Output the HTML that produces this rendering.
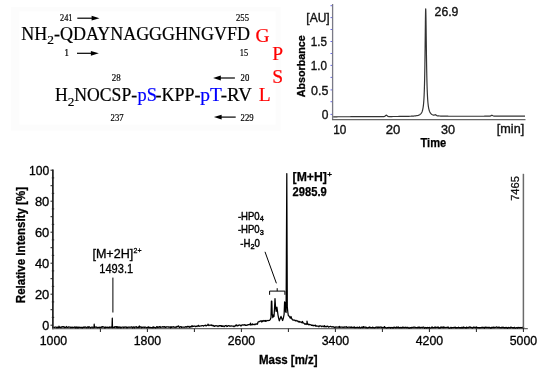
<!DOCTYPE html>
<html><head><meta charset="utf-8">
<style>
html,body{margin:0;padding:0;background:#fff;width:550px;height:371px;overflow:hidden}
svg{display:block;will-change:transform}
.serif{font-family:"Liberation Serif",serif}
.sans{font-family:"Liberation Sans",sans-serif}
</style></head><body>
<svg width="550" height="371" viewBox="0 0 550 371">
<rect width="550" height="371" fill="#fff"/>
<rect x="11" y="7" width="269.5" height="123.5" fill="#fcfcfc"/>
<rect x="19.5" y="11.5" width="256" height="113" fill="#fff"/>
<!-- ===== Peptide block ===== -->
<g class="serif" fill="#000" stroke="#000" stroke-width="0.2">
  <text x="21.3" y="40.1" font-size="17.8" textLength="228.6" lengthAdjust="spacingAndGlyphs">NH<tspan font-size="13.3" dy="4.3">2</tspan><tspan dy="-4.3">-QDAYNAGGGHNGVFD</tspan></text>
  <text x="255.6" y="41.7" font-size="19.5" fill="#f00" stroke="#f00">G</text>
  <text x="60" y="20.8" font-size="9.6" textLength="12.4" lengthAdjust="spacingAndGlyphs">241</text>
  <text x="236" y="21.2" font-size="9.6" textLength="13" lengthAdjust="spacingAndGlyphs">255</text>
  <text x="64.3" y="56" font-size="9.6">1</text>
  <text x="239.8" y="56" font-size="9.6" textLength="8.4" lengthAdjust="spacingAndGlyphs">15</text>
  <text x="272.2" y="60.1" font-size="19.5" fill="#f00" stroke="#f00">P</text>
  <text x="111.8" y="81" font-size="9.6" textLength="8.9" lengthAdjust="spacingAndGlyphs">28</text>
  <text x="240.6" y="81" font-size="9.6" textLength="8.7" lengthAdjust="spacingAndGlyphs">20</text>
  <text x="272.2" y="82.6" font-size="19.5" fill="#f00" stroke="#f00">S</text>
  <text x="54.9" y="101.3" font-size="17.8" textLength="82.3" lengthAdjust="spacingAndGlyphs">H<tspan font-size="13.3" dy="4.3">2</tspan><tspan dy="-4.3">NOCSP-</tspan></text>
  <text x="137.6" y="101.3" font-size="17.8" fill="#00f" stroke="#00f" textLength="19.4" lengthAdjust="spacingAndGlyphs">pS</text>
  <text x="155.6" y="101.3" font-size="17.8" textLength="45" lengthAdjust="spacingAndGlyphs">-KPP-</text>
  <text x="200.2" y="101.3" font-size="17.8" fill="#00f" stroke="#00f" textLength="21.6" lengthAdjust="spacingAndGlyphs">pT</text>
  <text x="220.8" y="101.3" font-size="17.8" textLength="31" lengthAdjust="spacingAndGlyphs">-RV</text>
  <text x="258.8" y="101" font-size="19.5" fill="#f00" stroke="#f00">L</text>
  <text x="110.6" y="120.6" font-size="9.6" textLength="13" lengthAdjust="spacingAndGlyphs">237</text>
  <text x="240.6" y="120.6" font-size="9.6" textLength="13" lengthAdjust="spacingAndGlyphs">229</text>
</g>
<g stroke="#000" stroke-width="1.2" fill="#000">
  <line x1="77.3" y1="18.2" x2="93" y2="18.2"/><path d="M99.5,18.2 L91.6,15.8 L91.6,20.6 Z" stroke="none"/>
  <line x1="77" y1="53.3" x2="92.5" y2="53.3"/><path d="M98.8,53.3 L90.9,50.9 L90.9,55.7 Z" stroke="none"/>
  <line x1="219" y1="78" x2="234.9" y2="78"/><path d="M213.1,78 L220.8,75.6 L220.8,80.4 Z" stroke="none"/>
  <line x1="219.5" y1="117.1" x2="235.7" y2="117.1"/><path d="M213.9,117.1 L221.6,114.7 L221.6,119.5 Z" stroke="none"/>
</g>

<!-- ===== Chromatogram ===== -->
<g class="sans">
  <line x1="332.6" y1="4" x2="332.6" y2="120" stroke="#7a7a86" stroke-width="1.3"/>
  <line x1="332" y1="119.7" x2="525.5" y2="119.7" stroke="#666" stroke-width="1.3"/>
  <g stroke="#6a6ae6" stroke-width="1">
    <line x1="330.5" y1="5.7" x2="332" y2="5.7"/><line x1="330.5" y1="17.6" x2="332" y2="17.6"/>
    <line x1="330.5" y1="29.5" x2="332" y2="29.5"/><line x1="330.5" y1="41.5" x2="332" y2="41.5"/>
    <line x1="330.5" y1="53.5" x2="332" y2="53.5"/><line x1="330.5" y1="65.4" x2="332" y2="65.4"/>
    <line x1="330.5" y1="77.4" x2="332" y2="77.4"/><line x1="330.5" y1="89.9" x2="332" y2="89.9"/>
    <line x1="330.5" y1="101.7" x2="332" y2="101.7"/><line x1="330.5" y1="114.4" x2="332" y2="114.4"/>
  </g>
  <path d="M333.20,116.79 L333.70,116.79 L334.20,116.79 L334.70,116.79 L335.20,116.78 L335.70,116.78 L336.20,116.78 L336.70,116.78 L337.20,116.78 L337.70,116.77 L338.20,116.77 L338.70,116.77 L339.20,116.77 L339.70,116.77 L340.20,116.76 L340.70,116.76 L341.20,116.76 L341.70,116.76 L342.20,116.76 L342.70,116.76 L343.20,116.75 L343.70,116.75 L344.20,116.75 L344.70,116.75 L345.20,116.75 L345.70,116.74 L346.20,116.74 L346.70,116.74 L347.20,116.74 L347.70,116.74 L348.20,116.73 L348.70,116.73 L349.20,116.73 L349.70,116.73 L350.20,116.73 L350.70,116.72 L351.20,116.72 L351.70,116.72 L352.20,116.72 L352.70,116.72 L353.20,116.71 L353.70,116.71 L354.20,116.71 L354.70,116.71 L355.20,116.71 L355.70,116.70 L356.20,116.70 L356.70,116.70 L357.20,116.70 L357.70,116.70 L358.20,116.69 L358.70,116.69 L359.20,116.69 L359.70,116.69 L360.20,116.69 L360.70,116.68 L361.20,116.68 L361.70,116.68 L362.20,116.68 L362.70,116.68 L363.20,116.67 L363.70,116.67 L364.20,116.67 L364.70,116.67 L365.20,116.66 L365.70,116.66 L366.20,116.66 L366.70,116.66 L367.20,116.66 L367.70,116.65 L368.20,116.65 L368.70,116.65 L369.20,116.65 L369.70,116.65 L370.20,116.64 L370.70,116.64 L371.20,116.64 L371.70,116.64 L372.20,116.63 L372.70,116.63 L373.20,116.63 L373.70,116.63 L374.20,116.63 L374.70,116.62 L375.20,116.62 L375.70,116.62 L376.20,116.62 L376.70,116.61 L377.20,116.61 L377.70,116.61 L378.20,116.61 L378.70,116.60 L379.20,116.60 L379.70,116.60 L380.20,116.60 L380.70,116.59 L381.20,116.59 L381.70,116.59 L382.20,116.59 L382.70,116.58 L383.20,116.58 L383.70,116.57 L384.20,116.53 L384.70,116.38 L385.20,116.03 L385.70,115.51 L386.20,115.17 L386.70,115.33 L387.20,115.81 L387.70,116.25 L388.20,116.47 L388.70,116.53 L389.20,116.54 L389.70,116.54 L390.20,116.54 L390.70,116.54 L391.20,116.53 L391.70,116.53 L392.20,116.53 L392.70,116.52 L393.20,116.52 L393.70,116.51 L394.20,116.51 L394.70,116.51 L395.20,116.50 L395.70,116.50 L396.20,116.49 L396.70,116.49 L397.20,116.49 L397.70,116.48 L398.20,116.48 L398.70,116.47 L399.20,116.47 L399.70,116.46 L400.20,116.45 L400.70,116.45 L401.20,116.44 L401.70,116.44 L402.20,116.43 L402.70,116.42 L403.20,116.41 L403.70,116.41 L404.20,116.40 L404.70,116.39 L405.20,116.38 L405.70,116.37 L406.20,116.36 L406.70,116.35 L407.20,116.34 L407.70,116.33 L408.20,116.31 L408.70,116.30 L409.20,116.28 L409.70,116.27 L410.20,116.25 L410.70,116.23 L411.20,116.20 L411.70,116.18 L412.20,116.15 L412.70,116.12 L413.20,116.09 L413.70,116.05 L414.20,116.01 L414.70,115.96 L415.20,115.91 L415.70,115.85 L416.20,115.78 L416.70,115.69 L417.20,115.59 L417.70,115.48 L418.20,115.34 L418.70,115.17 L419.20,114.96 L419.70,114.70 L420.20,114.36 L420.70,113.92 L421.20,113.34 L421.25,113.27 L421.30,113.20 L421.35,113.13 L421.40,113.05 L421.45,112.97 L421.50,112.89 L421.55,112.81 L421.60,112.72 L421.65,112.63 L421.70,112.54 L421.75,112.44 L421.80,112.34 L421.85,112.23 L421.90,112.13 L421.95,112.01 L422.00,111.90 L422.05,111.78 L422.10,111.65 L422.15,111.52 L422.20,111.38 L422.25,111.24 L422.30,111.10 L422.35,110.94 L422.40,110.78 L422.45,110.62 L422.50,110.44 L422.55,110.26 L422.60,110.07 L422.65,109.87 L422.70,109.66 L422.75,109.44 L422.80,109.22 L422.85,108.98 L422.90,108.73 L422.95,108.46 L423.00,108.19 L423.05,107.90 L423.10,107.59 L423.15,107.27 L423.20,106.93 L423.25,106.57 L423.30,106.19 L423.35,105.80 L423.40,105.37 L423.45,104.93 L423.50,104.46 L423.55,103.96 L423.60,103.43 L423.65,102.87 L423.70,102.27 L423.75,101.63 L423.80,100.95 L423.85,100.23 L423.90,99.46 L423.95,98.64 L424.00,97.76 L424.05,96.82 L424.10,95.81 L424.15,94.73 L424.20,93.57 L424.25,92.33 L424.30,90.99 L424.35,89.55 L424.40,87.99 L424.45,86.32 L424.50,84.52 L424.55,82.57 L424.60,80.48 L424.65,78.22 L424.70,75.78 L424.75,73.15 L424.80,70.33 L424.85,67.29 L424.90,64.04 L424.95,60.57 L425.00,56.88 L425.05,52.98 L425.10,48.89 L425.15,44.62 L425.20,40.23 L425.25,35.76 L425.30,31.30 L425.35,26.93 L425.40,22.76 L425.45,18.92 L425.50,15.54 L425.55,12.74 L425.60,10.64 L425.65,9.34 L425.70,8.90 L425.75,9.26 L425.80,10.33 L425.85,12.08 L425.90,14.42 L425.95,17.28 L426.00,20.57 L426.05,24.18 L426.10,28.03 L426.15,32.02 L426.20,36.07 L426.25,40.12 L426.30,44.11 L426.35,48.01 L426.40,51.76 L426.45,55.37 L426.50,58.80 L426.55,62.05 L426.60,65.12 L426.65,68.01 L426.70,70.73 L426.75,73.27 L426.80,75.65 L426.85,77.88 L426.90,79.96 L426.95,81.90 L427.00,83.72 L427.05,85.41 L427.10,86.99 L427.15,88.47 L427.20,89.85 L427.25,91.14 L427.30,92.35 L427.35,93.48 L427.40,94.54 L427.45,95.53 L427.50,96.47 L427.55,97.34 L427.60,98.17 L427.65,98.94 L427.70,99.67 L427.75,100.36 L427.80,101.01 L427.85,101.62 L427.90,102.20 L427.95,102.74 L428.00,103.26 L428.05,103.75 L428.10,104.21 L428.15,104.65 L428.20,105.07 L428.25,105.47 L428.30,105.85 L428.35,106.20 L428.40,106.55 L428.45,106.87 L428.50,107.18 L428.55,107.48 L428.60,107.76 L428.65,108.03 L428.70,108.28 L428.75,108.53 L428.80,108.76 L428.85,108.99 L428.90,109.21 L428.95,109.41 L429.00,109.61 L429.05,109.80 L429.10,109.98 L429.15,110.16 L429.20,110.33 L429.25,110.49 L429.30,110.64 L429.35,110.79 L429.40,110.94 L429.45,111.07 L429.50,111.21 L429.55,111.34 L429.60,111.46 L429.65,111.58 L429.70,111.70 L429.75,111.81 L429.80,111.91 L429.85,112.02 L429.90,112.12 L429.95,112.22 L430.00,112.31 L430.05,112.40 L430.10,112.49 L430.15,112.57 L430.20,112.66 L430.25,112.74 L430.30,112.81 L430.35,112.89 L430.40,112.96 L430.45,113.03 L430.50,113.10 L430.55,113.17 L430.60,113.23 L430.65,113.29 L430.70,113.35 L430.75,113.41 L430.80,113.47 L430.85,113.53 L430.90,113.58 L430.95,113.63 L431.00,113.68 L431.50,114.13 L432.00,114.47 L432.50,114.74 L433.00,114.96 L433.50,115.12 L434.00,115.17 L434.50,115.02 L435.00,114.75 L435.50,114.71 L436.00,115.06 L436.50,115.48 L437.00,115.74 L437.50,115.84 L438.00,115.89 L438.50,115.93 L439.00,115.97 L439.50,116.00 L440.00,116.02 L440.50,116.05 L441.00,116.07 L441.50,116.09 L442.00,116.10 L442.50,116.12 L443.00,116.13 L443.50,116.15 L444.00,116.16 L444.50,116.17 L445.00,116.18 L445.50,116.19 L446.00,116.20 L446.50,116.20 L447.00,116.21 L447.50,116.22 L448.00,116.22 L448.50,116.23 L449.00,116.23 L449.50,116.24 L450.00,116.24 L450.50,116.24 L451.00,116.25 L451.50,116.25 L452.00,116.25 L452.50,116.25 L453.00,116.26 L453.50,116.26 L454.00,116.26 L454.50,116.26 L455.00,116.26 L455.50,116.26 L456.00,116.27 L456.50,116.27 L457.00,116.27 L457.50,116.27 L458.00,116.27 L458.50,116.27 L459.00,116.27 L459.50,116.27 L460.00,116.27 L460.50,116.27 L461.00,116.27 L461.50,116.27 L462.00,116.27 L462.50,116.27 L463.00,116.27 L463.50,116.27 L464.00,116.27 L464.50,116.27 L465.00,116.27 L465.50,116.27 L466.00,116.27 L466.50,116.27 L467.00,116.26 L467.50,116.26 L468.00,116.26 L468.50,116.26 L469.00,116.26 L469.50,116.26 L470.00,116.26 L470.50,116.26 L471.00,116.26 L471.50,116.26 L472.00,116.26 L472.50,116.26 L473.00,116.25 L473.50,116.25 L474.00,116.25 L474.50,116.25 L475.00,116.25 L475.50,116.25 L476.00,116.25 L476.50,116.25 L477.00,116.24 L477.50,116.24 L478.00,116.24 L478.50,116.24 L479.00,116.24 L479.50,116.24 L480.00,116.24 L480.50,116.24 L481.00,116.23 L481.50,116.23 L482.00,116.23 L482.50,116.23 L483.00,116.23 L483.50,116.23 L484.00,116.23 L484.50,116.22 L485.00,116.22 L485.50,116.22 L486.00,116.22 L486.50,116.22 L487.00,116.22 L487.50,116.22 L488.00,116.21 L488.50,116.21 L489.00,116.21 L489.50,116.18 L490.00,116.11 L490.50,115.94 L491.00,115.66 L491.50,115.39 L492.00,115.31 L492.50,115.48 L493.00,115.77 L493.50,116.01 L494.00,116.14 L494.50,116.18 L495.00,116.19 L495.50,116.19 L496.00,116.19 L496.50,116.19 L497.00,116.19 L497.50,116.18 L498.00,116.18 L498.50,116.18 L499.00,116.18 L499.50,116.18 L500.00,116.18 L500.50,116.18 L501.00,116.17 L501.50,116.17 L502.00,116.17 L502.50,116.17 L503.00,116.17 L503.50,116.17 L504.00,116.16 L504.50,116.16 L505.00,116.16 L505.50,116.16 L506.00,116.16 L506.50,116.16 L507.00,116.15 L507.50,116.15 L508.00,116.15 L508.50,116.15 L509.00,116.15 L509.50,116.15 L510.00,116.14 L510.50,116.14 L511.00,116.14 L511.50,116.14 L512.00,116.14 L512.50,116.14 L513.00,116.13 L513.50,116.13 L514.00,116.13 L514.50,116.13 L515.00,116.13 L515.50,116.12 L516.00,116.12 L516.50,116.12 L517.00,116.12 L517.50,116.12 L518.00,116.12 L518.50,116.11 L519.00,116.11 L519.50,116.11 L520.00,116.11 L520.50,116.11 L521.00,116.11 L521.50,116.10 L522.00,116.10 L522.50,116.10 L523.00,116.10 L523.50,116.10 L524.00,116.10 L524.50,116.09 L525.00,116.09" fill="none" stroke="#333" stroke-width="1.2" stroke-linejoin="round"/>
  <g font-size="12" fill="#111" stroke="#111" stroke-width="0.35">
    <text x="306.3" y="22.2" textLength="23.4" lengthAdjust="spacingAndGlyphs">[AU]</text>
    <text x="310.7" y="45.8" textLength="16.2" lengthAdjust="spacingAndGlyphs">1.5</text>
    <text x="310.7" y="70" textLength="16.2" lengthAdjust="spacingAndGlyphs">1.0</text>
    <text x="311" y="95" textLength="17.3" lengthAdjust="spacingAndGlyphs">0.5</text>
    <text x="321.8" y="119">0</text>
    <text x="333.3" y="133.6" textLength="13.1" lengthAdjust="spacingAndGlyphs">10</text>
    <text x="385.7" y="133.6" textLength="14.6" lengthAdjust="spacingAndGlyphs">20</text>
    <text x="441" y="134.1" textLength="14.1" lengthAdjust="spacingAndGlyphs">30</text>
    <text x="434.6" y="16.2" textLength="23.8" lengthAdjust="spacingAndGlyphs">26.9</text>
    <text x="496.8" y="133" textLength="27.4" lengthAdjust="spacingAndGlyphs">[min]</text>
  </g>
  <text x="420.5" y="146.6" font-size="12" font-weight="bold" stroke="#000" stroke-width="0.25" textLength="25.7" lengthAdjust="spacingAndGlyphs">Time</text>
  <text transform="translate(305,97.2) rotate(-90)" font-size="11.6" font-weight="bold" stroke="#000" stroke-width="0.3" textLength="62" lengthAdjust="spacingAndGlyphs">Absorbance</text>
</g>

<!-- ===== Mass spectrum ===== -->
<g class="sans">
  <line x1="52.9" y1="169.6" x2="52.9" y2="329.2" stroke="#000" stroke-width="1.5"/>
  <line x1="52.2" y1="328.6" x2="527.8" y2="328.6" stroke="#666" stroke-width="1.4"/>
  <g stroke="#222" stroke-width="1">
    <line x1="50.5" y1="325.2" x2="53" y2="325.2"/>
    <line x1="51.8" y1="317.4" x2="54.2" y2="317.4"/>
    <line x1="50.5" y1="309.7" x2="53" y2="309.7"/>
    <line x1="51.8" y1="301.9" x2="54.2" y2="301.9"/>
    <line x1="50.5" y1="294.2" x2="53" y2="294.2"/>
    <line x1="51.8" y1="286.4" x2="54.2" y2="286.4"/>
    <line x1="50.5" y1="278.7" x2="53" y2="278.7"/>
    <line x1="51.8" y1="270.9" x2="54.2" y2="270.9"/>
    <line x1="50.5" y1="263.2" x2="53" y2="263.2"/>
    <line x1="51.8" y1="255.4" x2="54.2" y2="255.4"/>
    <line x1="50.5" y1="247.7" x2="53" y2="247.7"/>
    <line x1="51.8" y1="239.9" x2="54.2" y2="239.9"/>
    <line x1="50.5" y1="232.2" x2="53" y2="232.2"/>
    <line x1="51.8" y1="224.4" x2="54.2" y2="224.4"/>
    <line x1="50.5" y1="216.7" x2="53" y2="216.7"/>
    <line x1="51.8" y1="208.9" x2="54.2" y2="208.9"/>
    <line x1="50.5" y1="201.2" x2="53" y2="201.2"/>
    <line x1="51.8" y1="193.4" x2="54.2" y2="193.4"/>
    <line x1="50.5" y1="185.7" x2="53" y2="185.7"/>
    <line x1="51.8" y1="177.9" x2="54.2" y2="177.9"/>
    <line x1="50.5" y1="170.2" x2="53" y2="170.2"/>
    <line x1="100.4" y1="328.6" x2="100.4" y2="332"/>
    <line x1="147.4" y1="328.6" x2="147.4" y2="332"/>
    <line x1="194.4" y1="328.6" x2="194.4" y2="332"/>
    <line x1="241.4" y1="328.6" x2="241.4" y2="332"/>
    <line x1="288.4" y1="328.6" x2="288.4" y2="332"/>
    <line x1="335.4" y1="328.6" x2="335.4" y2="332"/>
    <line x1="382.4" y1="328.6" x2="382.4" y2="332"/>
    <line x1="429.4" y1="328.6" x2="429.4" y2="332"/>
    <line x1="476.4" y1="328.6" x2="476.4" y2="332"/>
    <line x1="523.4" y1="328.6" x2="523.4" y2="332"/>
  </g>
  <path d="M53.5,327.4 L54.0,327.5 L54.5,327.3 L55.0,327.1 L55.5,327.2 L56.0,327.0 L56.5,327.4 L57.0,327.9 L57.5,327.2 L58.0,327.2 L58.5,327.6 L59.0,327.5 L59.0,326.1 L59.5,327.4 L60.0,327.1 L60.5,327.4 L61.0,327.6 L61.5,326.9 L62.0,327.2 L62.5,326.7 L63.0,326.9 L63.5,326.7 L64.0,327.3 L64.5,326.9 L65.0,327.5 L65.5,327.4 L66.0,327.3 L66.5,326.5 L67.0,327.2 L67.5,327.4 L68.0,327.4 L68.5,326.8 L69.0,327.2 L69.5,327.0 L70.0,327.1 L70.5,327.7 L71.0,327.1 L71.5,327.3 L72.0,327.7 L72.5,327.2 L73.0,327.3 L73.5,327.4 L74.0,327.4 L74.5,326.9 L75.0,327.4 L75.5,327.8 L76.0,326.8 L76.5,327.7 L77.0,327.4 L77.5,327.1 L78.0,328.0 L78.5,327.6 L79.0,326.9 L79.5,327.4 L80.0,327.5 L80.5,327.3 L81.0,327.6 L81.5,327.3 L82.0,327.6 L82.5,327.8 L83.0,327.1 L83.5,327.4 L84.0,327.2 L84.5,327.4 L85.0,326.9 L85.5,327.1 L86.0,327.3 L86.5,327.6 L87.0,327.7 L87.5,326.9 L88.0,327.0 L88.5,327.6 L89.0,326.6 L89.5,327.2 L90.0,327.3 L90.5,327.8 L91.0,327.6 L91.5,327.2 L92.0,327.2 L92.5,327.2 L93.0,327.8 L93.5,327.2 L94.0,327.2 L94.2,324.2 L94.5,327.4 L95.0,327.3 L95.5,327.2 L96.0,326.9 L96.5,327.3 L97.0,327.2 L97.5,327.7 L98.0,327.5 L98.5,327.3 L99.0,327.5 L99.5,327.2 L100.0,327.7 L100.5,327.3 L101.0,327.5 L101.5,326.8 L102.0,327.4 L102.5,326.7 L103.0,326.6 L103.5,327.2 L104.0,327.0 L104.5,327.4 L105.0,328.1 L105.5,327.0 L106.0,327.1 L106.5,327.4 L107.0,327.5 L107.5,327.2 L108.0,327.2 L108.5,327.5 L109.0,327.5 L109.5,326.9 L110.0,327.3 L110.5,327.3 L111.0,326.9 L111.5,327.4 L112.0,327.0 L112.3,318.2 L112.5,327.6 L113.0,327.4 L113.5,327.3 L114.0,327.1 L114.5,327.3 L115.0,326.6 L115.5,326.9 L116.0,327.4 L116.5,326.6 L117.0,327.6 L117.5,326.7 L118.0,327.6 L118.5,327.0 L119.0,327.6 L119.5,327.3 L120.0,326.8 L120.5,327.7 L121.0,327.8 L121.5,327.3 L122.0,327.2 L122.5,327.2 L123.0,327.0 L123.5,327.7 L124.0,327.1 L124.5,327.3 L125.0,327.0 L125.5,327.1 L126.0,326.9 L126.5,327.7 L127.0,327.2 L127.5,327.6 L128.0,327.3 L128.5,327.1 L129.0,327.2 L129.5,327.1 L130.0,327.3 L130.5,327.2 L131.0,327.2 L131.5,326.8 L132.0,327.0 L132.5,327.9 L133.0,327.1 L133.5,326.9 L134.0,327.4 L134.5,327.8 L135.0,326.8 L135.5,327.2 L136.0,327.1 L136.5,326.7 L137.0,327.6 L137.5,327.3 L138.0,327.3 L138.5,327.0 L139.0,327.5 L139.4,326.0 L139.5,327.1 L140.0,327.2 L140.5,326.9 L141.0,326.9 L141.5,327.8 L142.0,327.1 L142.5,327.4 L143.0,327.3 L143.5,327.1 L144.0,327.1 L144.5,327.5 L145.0,327.2 L145.5,327.2 L146.0,327.3 L146.5,327.7 L147.0,327.5 L147.5,327.4 L148.0,327.1 L148.5,326.8 L149.0,327.6 L149.5,327.6 L150.0,327.2 L150.5,327.5 L151.0,327.5 L151.5,327.6 L152.0,327.6 L152.5,327.1 L153.0,327.8 L153.5,326.8 L154.0,327.5 L154.5,327.4 L155.0,327.5 L155.5,327.9 L156.0,327.7 L156.5,326.8 L157.0,326.6 L157.5,327.5 L158.0,326.9 L158.5,327.2 L159.0,327.5 L159.5,326.6 L160.0,326.5 L160.5,327.3 L161.0,327.2 L161.5,327.1 L162.0,327.2 L162.5,326.9 L163.0,326.6 L163.5,327.1 L164.0,326.8 L164.5,326.6 L165.0,327.3 L165.5,327.1 L166.0,327.3 L166.5,326.8 L167.0,326.9 L167.5,326.8 L168.0,326.8 L168.5,327.2 L169.0,326.9 L169.5,327.2 L170.0,327.2 L170.5,327.8 L171.0,326.6 L171.5,327.4 L172.0,327.1 L172.5,327.1 L173.0,326.6 L173.5,326.9 L174.0,327.3 L174.5,327.1 L175.0,327.1 L175.5,327.0 L176.0,327.5 L176.5,327.1 L177.0,326.3 L177.5,326.8 L178.0,326.4 L178.5,325.9 L179.0,326.9 L179.5,327.5 L180.0,327.1 L180.5,326.6 L181.0,326.7 L181.5,327.4 L182.0,327.1 L182.5,327.0 L183.0,327.0 L183.5,327.0 L184.0,327.3 L184.5,327.2 L185.0,327.1 L185.5,326.6 L186.0,327.1 L186.5,326.7 L187.0,327.2 L187.5,326.4 L188.0,326.7 L188.5,326.8 L189.0,326.3 L189.5,327.3 L190.0,327.2 L190.5,326.5 L191.0,326.9 L191.5,326.7 L192.0,325.6 L192.5,326.6 L193.0,326.4 L193.5,326.4 L194.0,326.0 L194.5,326.2 L195.0,326.2 L195.5,326.7 L196.0,326.3 L196.5,326.1 L197.0,326.6 L197.5,325.9 L198.0,325.9 L198.5,325.3 L199.0,326.4 L199.5,326.2 L200.0,326.1 L200.5,326.0 L201.0,325.8 L201.5,325.8 L202.0,325.6 L202.5,325.6 L203.0,325.6 L203.5,326.1 L204.0,325.8 L204.5,325.5 L205.0,325.3 L205.5,325.2 L206.0,326.0 L206.5,325.6 L207.0,325.4 L207.5,325.2 L208.0,324.9 L208.0,324.0 L208.5,325.3 L209.0,325.6 L209.5,325.1 L210.0,325.1 L210.5,325.2 L211.0,325.4 L211.5,324.9 L212.0,325.5 L212.5,325.3 L213.0,326.0 L213.5,325.5 L214.0,326.1 L214.5,326.4 L215.0,325.8 L215.5,325.7 L216.0,326.0 L216.5,325.9 L217.0,325.6 L217.5,326.1 L218.0,326.6 L218.5,325.8 L219.0,325.9 L219.5,325.6 L220.0,326.0 L220.5,325.5 L221.0,325.5 L221.5,326.4 L222.0,325.6 L222.5,326.3 L223.0,326.5 L223.5,326.0 L224.0,326.1 L224.5,326.6 L225.0,325.9 L225.5,325.7 L226.0,325.5 L226.5,326.0 L227.0,326.5 L227.5,326.3 L228.0,325.6 L228.5,325.7 L229.0,325.8 L229.5,326.1 L230.0,325.9 L230.5,326.1 L231.0,326.1 L231.5,325.9 L232.0,326.0 L232.5,326.1 L233.0,326.0 L233.5,326.2 L234.0,326.7 L234.5,326.2 L235.0,326.0 L235.5,325.3 L236.0,326.0 L236.0,324.8 L236.5,325.1 L237.0,325.2 L237.5,325.9 L238.0,325.8 L238.5,325.5 L239.0,324.8 L239.5,325.2 L240.0,325.1 L240.5,325.5 L241.0,326.0 L241.5,325.3 L242.0,324.9 L242.5,324.8 L243.0,325.1 L243.5,325.1 L244.0,324.7 L244.5,325.1 L245.0,324.6 L245.5,325.4 L246.0,325.4 L246.5,325.4 L247.0,324.8 L247.5,325.1 L248.0,324.9 L248.5,324.7 L249.0,324.7 L249.5,324.4 L250.0,324.3 L250.5,325.0 L250.5,323.0 L251.0,324.6 L251.5,324.7 L252.0,325.0 L252.5,323.9 L253.0,324.2 L253.5,324.5 L254.0,324.5 L254.5,324.2 L255.0,324.7 L255.5,324.3 L256.0,323.8 L256.5,323.8 L257.0,324.3 L257.5,324.2 L258.0,322.0 L258.5,321.8 L259.0,321.5 L259.5,321.7 L260.0,321.0 L260.5,321.0 L261.0,320.7 L261.5,321.9 L262.0,320.9 L262.5,321.5 L263.0,320.7 L263.5,321.0 L264.0,320.4 L264.5,320.8 L265.0,321.3 L265.5,320.5 L266.0,321.3 L266.5,321.0 L267.0,320.4 L267.5,320.5 L268.0,320.5 L268.5,320.5 L269.0,320.3 L269.5,320.3 L270.4,319.3 L271.0,317.5 L271.4,301.1 L271.8,301.1 L272.2,314.0 L272.8,317.6 L273.4,315.0 L274.0,316.5 L274.5,309.0 L275.0,298.6 L275.5,306.5 L276.2,311.5 L276.9,307.1 L277.4,310.5 L278.0,315.0 L278.5,317.6 L279.3,320.9 L280.2,318.5 L281.0,316.4 L281.8,318.5 L282.6,320.5 L283.4,318.0 L284.1,314.4 L284.6,301.9 L285.0,302.5 L285.5,311.5 L286.1,312.5 L286.8,173.5 L287.3,307.0 L287.8,312.0 L288.3,315.5 L289.2,316.2 L290.3,318.2 L291.0,316.5 L291.6,318.4 L292.5,319.8 L293.0,319.9 L293.5,320.1 L294.0,320.0 L294.5,320.0 L295.0,320.5 L295.5,320.9 L296.0,320.3 L296.5,320.9 L297.0,320.9 L297.5,320.9 L298.0,321.6 L298.5,321.3 L299.0,322.1 L299.5,321.5 L300.0,322.0 L300.5,322.0 L301.0,321.9 L301.5,322.5 L302.0,322.4 L302.5,322.8 L302.5,321.4 L303.0,322.9 L303.5,322.9 L304.0,323.4 L304.5,323.7 L305.0,324.3 L305.5,323.8 L306.0,324.1 L306.5,323.7 L307.0,324.5 L307.0,321.2 L307.5,324.1 L308.0,323.9 L308.5,324.5 L309.0,324.9 L309.5,324.3 L310.0,324.5 L310.5,324.8 L311.0,324.8 L311.5,325.4 L312.0,325.2 L312.5,325.2 L313.0,325.7 L313.5,325.3 L314.0,325.8 L314.5,325.4 L315.0,325.4 L315.5,325.2 L316.0,326.4 L316.5,325.8 L317.0,326.0 L317.5,326.0 L318.0,326.1 L318.5,326.1 L319.0,326.8 L319.5,325.9 L320.0,325.8 L320.5,326.0 L321.0,325.9 L321.5,326.6 L322.0,326.6 L322.5,326.1 L323.0,326.0 L323.5,326.4 L324.0,326.9 L324.5,325.7 L325.0,326.7 L325.5,326.3 L326.0,326.9 L326.5,326.3 L327.0,326.6 L327.5,326.2 L328.0,326.4 L328.5,327.1 L329.0,327.0 L329.5,326.7 L330.0,326.5 L330.5,326.3 L331.0,326.7 L331.5,326.9 L332.0,326.9 L332.5,326.9 L333.0,326.6 L333.5,327.0 L334.0,327.0 L334.5,327.4 L335.0,327.6 L335.5,327.0 L336.0,326.9 L336.5,327.1 L337.0,327.0 L337.5,327.0 L338.0,327.2 L338.5,326.9 L339.0,327.4 L339.5,327.2 L339.5,326.3 L340.0,327.4 L340.5,327.2 L341.0,327.1 L341.5,327.0 L342.0,327.2 L342.5,327.1 L343.0,327.4 L343.5,327.3 L344.0,326.9 L344.5,327.3 L345.0,326.9 L345.5,327.1 L346.0,327.2 L346.5,326.7 L347.0,327.4 L347.5,327.4 L348.0,327.3 L348.5,327.2 L349.0,327.2 L349.5,327.1 L350.0,327.3 L350.5,327.2 L351.0,327.4 L351.5,327.0 L352.0,327.4 L352.5,327.4 L353.0,327.3 L353.5,327.2 L354.0,327.5 L354.5,326.9 L355.0,327.5 L355.5,327.5 L356.0,327.5 L356.5,327.5 L357.0,327.2 L357.5,327.3 L358.0,327.6 L358.5,327.5 L359.0,327.5 L359.5,326.9 L360.0,327.6 L360.5,327.8 L361.0,327.7 L361.5,327.5 L362.0,326.9 L362.5,327.7 L363.0,327.4 L363.5,326.6 L364.0,327.5 L364.5,327.0 L365.0,327.0 L365.5,327.2 L366.0,327.8 L366.5,327.3 L367.0,327.5 L367.5,327.9 L368.0,327.9 L368.5,327.4 L369.0,327.4 L369.5,327.0 L370.0,327.2 L370.5,327.6 L371.0,327.5 L371.5,327.5 L372.0,327.7 L372.5,327.2 L373.0,327.4 L373.5,327.7 L374.0,327.6 L374.5,327.8 L375.0,327.6 L375.5,327.3 L376.0,327.5 L376.5,327.1 L377.0,327.0 L377.5,327.6 L378.0,327.4 L378.5,327.5 L379.0,326.9 L379.5,327.3 L380.0,327.3 L380.5,327.2 L381.0,326.8 L381.5,327.4 L382.0,327.7 L382.5,327.6 L383.0,327.3 L383.5,327.5 L384.0,327.7 L384.5,326.6 L385.0,327.4 L385.5,327.6 L386.0,327.7 L386.5,328.0 L387.0,327.8 L387.5,327.6 L388.0,327.6 L388.5,327.7 L389.0,327.3 L389.5,327.5 L390.0,327.7 L390.5,328.1 L391.0,327.4 L391.5,327.5 L392.0,327.5 L392.5,327.9 L393.0,327.5 L393.5,327.9 L394.0,327.2 L394.5,327.4 L395.0,327.4 L395.5,327.7 L396.0,327.8 L396.5,327.0 L397.0,327.2 L397.5,327.6 L398.0,327.3 L398.5,327.0 L399.0,327.8 L399.5,327.6 L400.0,327.6 L400.5,327.4 L401.0,327.8 L401.5,327.4 L402.0,327.8 L402.5,327.2 L403.0,327.2 L403.5,327.6 L404.0,327.3 L404.5,327.7 L405.0,327.6 L405.5,327.2 L406.0,327.5 L406.5,327.4 L407.0,327.8 L407.5,327.3 L408.0,327.4 L408.5,327.9 L409.0,328.2 L409.5,328.1 L410.0,327.5 L410.5,327.6 L411.0,328.0 L411.5,327.5 L412.0,327.2 L412.5,327.5 L413.0,327.6 L413.5,327.3 L414.0,327.0 L414.5,327.1 L415.0,327.7 L415.5,327.3 L416.0,327.5 L416.5,327.6 L417.0,327.7 L417.5,327.4 L418.0,327.7 L418.5,327.2 L419.0,327.4 L419.5,327.2 L420.0,327.9 L420.5,327.5 L421.0,327.3 L421.5,327.4 L422.0,327.5 L422.5,327.7 L423.0,327.0 L423.5,327.2 L424.0,327.4 L424.5,328.3 L425.0,327.8 L425.5,327.5 L426.0,327.7 L426.5,328.1 L427.0,327.5 L427.5,327.4 L428.0,327.9 L428.5,327.7 L429.0,327.7 L429.5,327.4 L430.0,328.1 L430.5,328.0 L431.0,327.7 L431.5,327.7 L432.0,326.9 L432.5,327.7 L433.0,327.5 L433.5,327.7 L434.0,327.7 L434.5,327.4 L435.0,327.0 L435.5,327.6 L436.0,327.3 L436.5,327.4 L437.0,327.3 L437.5,327.4 L438.0,326.8 L438.5,327.9 L439.0,327.6 L439.5,327.9 L440.0,328.1 L440.5,327.5 L441.0,327.0 L441.5,327.3 L442.0,327.2 L442.5,327.4 L443.0,327.6 L443.5,326.9 L444.0,327.6 L444.5,327.1 L445.0,327.6 L445.5,327.5 L446.0,327.4 L446.5,327.5 L447.0,327.4 L447.5,327.4 L448.0,327.0 L448.5,327.5 L449.0,328.1 L449.5,328.1 L450.0,327.9 L450.5,327.8 L451.0,327.3 L451.5,328.0 L452.0,327.5 L452.5,327.5 L453.0,327.5 L453.5,327.6 L454.0,327.4 L454.5,327.5 L455.0,327.2 L455.5,327.4 L456.0,328.2 L456.5,327.5 L457.0,327.5 L457.5,327.7 L458.0,327.8 L458.5,327.2 L459.0,327.5 L459.5,327.8 L460.0,327.6 L460.5,327.6 L461.0,328.0 L461.5,327.3 L462.0,327.6 L462.5,327.4 L463.0,328.0 L463.5,327.0 L464.0,327.4 L464.5,327.4 L465.0,327.8 L465.5,327.7 L466.0,328.0 L466.5,327.1 L467.0,327.8 L467.5,327.5 L468.0,327.4 L468.5,327.7 L469.0,327.3 L469.5,326.9 L470.0,327.4 L470.5,327.1 L471.0,327.4 L471.5,327.7 L472.0,327.7 L472.5,328.0 L473.0,327.5 L473.5,327.1 L474.0,327.3 L474.5,327.3 L475.0,327.2 L475.5,327.7 L476.0,327.4 L476.5,327.0 L477.0,327.8 L477.5,327.5 L478.0,327.7 L478.5,327.6 L479.0,327.8 L479.5,327.6 L480.0,327.9 L480.5,327.7 L481.0,327.7 L481.5,327.7 L482.0,327.1 L482.5,327.5 L483.0,327.5 L483.5,327.6 L484.0,327.2 L484.5,328.1 L485.0,327.6 L485.5,327.2 L486.0,327.1 L486.5,327.5 L487.0,327.5 L487.5,327.4 L488.0,327.6 L488.5,327.4 L489.0,327.7 L489.5,327.4 L490.0,327.6 L490.5,327.9 L491.0,328.3 L491.5,327.3 L492.0,327.4 L492.5,327.3 L493.0,327.8 L493.5,327.2 L494.0,327.4 L494.5,327.6 L495.0,327.3 L495.5,327.3 L496.0,327.4 L496.5,326.9 L497.0,327.1 L497.5,327.5 L498.0,327.6 L498.5,327.5 L499.0,327.0 L499.5,327.4 L500.0,327.8 L500.5,327.7 L501.0,327.6 L501.5,327.3 L502.0,327.8 L502.5,327.4 L503.0,327.2 L503.5,327.3 L504.0,328.0 L504.5,327.6 L505.0,327.9 L505.5,327.4 L506.0,327.9 L506.5,327.4 L507.0,327.5 L507.5,328.3 L508.0,327.8 L508.5,327.4 L509.0,327.6 L509.5,327.7 L510.0,328.0 L510.5,327.4 L511.0,327.1 L511.5,327.5 L512.0,327.6 L512.5,327.6 L513.0,328.0 L513.5,327.7 L514.0,327.8 L514.5,327.3 L515.0,327.9 L515.5,328.2 L516.0,327.8 L516.5,327.7 L517.0,327.6 L517.5,328.1 L518.0,327.3 L518.5,327.6 L519.0,327.7 L519.5,327.8 L520.0,327.5 L520.5,327.7 L521.0,327.5 L521.5,327.6 L522.0,327.6 L522.5,327.3 L523.0,327.6 L523.5,327.9 L524.0,327.3" fill="none" stroke="#000" stroke-width="1.25" stroke-linejoin="round"/>
  <line x1="523.4" y1="173.8" x2="523.4" y2="328" stroke="#6a6a6a" stroke-width="1.5"/>
  <text transform="translate(519.2,200.8) rotate(-90)" font-size="11.5" fill="#111" stroke="#111" stroke-width="0.3" textLength="24.6" lengthAdjust="spacingAndGlyphs">7465</text>
  <g font-size="12" fill="#000" stroke="#000" stroke-width="0.3">
    <text x="42.3" y="330.2" textLength="7.0" lengthAdjust="spacingAndGlyphs">0</text>
    <text x="34.9" y="299.2" textLength="14.4" lengthAdjust="spacingAndGlyphs">20</text>
    <text x="34.9" y="268.2" textLength="14.4" lengthAdjust="spacingAndGlyphs">40</text>
    <text x="34.9" y="237.2" textLength="14.4" lengthAdjust="spacingAndGlyphs">60</text>
    <text x="34.9" y="206.2" textLength="14.4" lengthAdjust="spacingAndGlyphs">80</text>
    <text x="29.1" y="175.2" textLength="20.2" lengthAdjust="spacingAndGlyphs">100</text>
    <text x="39.7" y="345.4" textLength="27.4" lengthAdjust="spacingAndGlyphs">1000</text>
    <text x="133.7" y="345.4" textLength="27.4" lengthAdjust="spacingAndGlyphs">1800</text>
    <text x="227.7" y="345.4" textLength="27.4" lengthAdjust="spacingAndGlyphs">2600</text>
    <text x="321.7" y="345.4" textLength="27.4" lengthAdjust="spacingAndGlyphs">3400</text>
    <text x="415.7" y="345.4" textLength="27.4" lengthAdjust="spacingAndGlyphs">4200</text>
    <text x="509.7" y="345.4" textLength="27.4" lengthAdjust="spacingAndGlyphs">5000</text>
  </g>
  <text transform="translate(24.6,303.2) rotate(-90)" font-size="12.5" font-weight="bold" stroke="#000" stroke-width="0.3" textLength="116.3" lengthAdjust="spacingAndGlyphs">Relative Intensity [%]</text>
  <text x="259" y="364.3" font-size="12.5" font-weight="bold" stroke="#000" stroke-width="0.3" textLength="58.6" lengthAdjust="spacingAndGlyphs">Mass [m/z]</text>
  <g font-size="12" fill="#000" stroke="#000" stroke-width="0.3">
    <text x="92.4" y="257.6" textLength="40.8" lengthAdjust="spacingAndGlyphs">[M+2H]</text>
    <text x="133.6" y="253.4" font-size="7.6" textLength="8.0" lengthAdjust="spacingAndGlyphs">2+</text>
    <text x="99.3" y="272.5" textLength="33.8" lengthAdjust="spacingAndGlyphs">1493.1</text>
  </g>
  <line x1="112.9" y1="277.6" x2="112.9" y2="312.5" stroke="#000" stroke-width="1"/>
  <g font-size="12" font-weight="bold" fill="#000" stroke="#000" stroke-width="0.25">
    <text x="292.6" y="181.2" textLength="34.2" lengthAdjust="spacingAndGlyphs">[M+H]</text>
    <text x="327.2" y="176.5" font-size="8">+</text>
    <text x="292.6" y="195.6" textLength="34.2" lengthAdjust="spacingAndGlyphs">2985.9</text>
  </g>
  <g font-size="10.4" fill="#000" stroke="#000" stroke-width="0.4">
    <text x="237.9" y="219.8" textLength="25.9" lengthAdjust="spacingAndGlyphs">-HP0<tspan font-size="8" dy="1.2">4</tspan></text>
    <text x="237.9" y="233.1" textLength="25.9" lengthAdjust="spacingAndGlyphs">-HP0<tspan font-size="8" dy="1.6">3</tspan></text>
    <text x="240.2" y="246.9" textLength="19.7" lengthAdjust="spacingAndGlyphs">-H<tspan font-size="8" dy="1.6">2</tspan><tspan dy="-1.6">0</tspan></text>
  </g>
  <g stroke="#000" stroke-width="1" fill="none">
    <line x1="265" y1="251.8" x2="276.4" y2="283.3"/>
    <path d="M269.6,294.8 L269.6,291.1 L284.9,291.1 L284.9,294.8 M277.2,291.1 L277.2,288.2"/>
  </g>
</g>
</svg>
</body></html>
